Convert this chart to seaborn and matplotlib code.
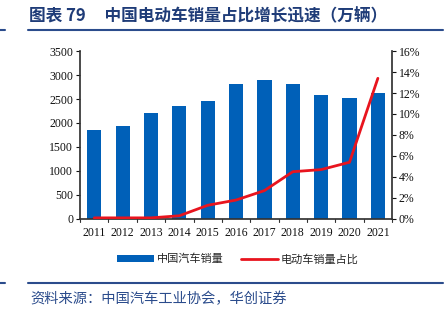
import matplotlib
matplotlib.use("Agg")
import matplotlib.pyplot as plt
import seaborn as sns
import pandas as pd
from matplotlib.lines import Line2D
from matplotlib.patches import Patch
from matplotlib.ticker import FuncFormatter

years = ["2011", "2012", "2013", "2014", "2015", "2016", "2017", "2018", "2019", "2020", "2021"]
car_sales = [1850.5, 1930.6, 2198.4, 2349.2, 2459.8, 2802.8, 2887.9, 2808.1, 2576.9, 2531.1, 2627.5]
ev_share = [0.1, 0.1, 0.1, 0.3, 1.3, 1.8, 2.7, 4.5, 4.7, 5.4, 13.4]

sns.set_theme(style="white")
plt.rcParams['font.family'] = ['Liberation Serif', 'Noto Sans CJK SC']

df = pd.DataFrame({"year": years, "sales": car_sales, "share": ev_share})

fig = plt.figure(figsize=(4.45, 3.21), dpi=100)
ax = fig.add_axes([0.18, 0.318, 0.701, 0.523])
bar_color = "#0060B8"
line_color = "#E8141E"
sns.barplot(data=df, x="year", y="sales", ax=ax, color=bar_color, width=0.5,
            saturation=1, edgecolor="none")
ax.set_ylim(0, 3500)
ax.set_yticks(range(0, 3501, 500))
ax.set_xlim(-0.5, len(years) - 0.5)
ax.set_xlabel("")
ax.set_ylabel("")

ax2 = ax.twinx()
sns.lineplot(data=df, x="year", y="share", ax=ax2, color=line_color, linewidth=2, sort=False)
ax2.set_ylim(0, 16)
ax2.set_yticks(range(0, 17, 2))
ax2.yaxis.set_major_formatter(FuncFormatter(lambda v, p: f"{int(v)}%"))
ax2.set_xlabel("")
ax2.set_ylabel("")
ax2.set_xlim(-0.5, len(years) - 0.5)

for a in (ax, ax2):
    a.spines["top"].set_visible(False)
    a.spines["left"].set_color("#333333")
    a.spines["right"].set_color("#333333")
    a.spines["bottom"].set_color("#333333")
    a.tick_params(axis="both", labelsize=8.5, colors="#111111", length=3, width=0.8, pad=2)
    a.grid(False)
ax.spines["right"].set_visible(False)
ax2.spines["left"].set_visible(False)
ax2.spines["bottom"].set_visible(False)

# x ticks between categories
ax.set_xticks([i for i in range(len(years))])
ax.set_xticklabels(years)
ax.tick_params(axis="x", length=0, pad=6)
for b in [i - 0.5 for i in range(len(years) + 1)]:
    ax.plot([b, b], [0, -0.018], transform=ax.get_xaxis_transform(), color="#333333",
            lw=0.8, clip_on=False)
ax.tick_params(axis="y", direction="out", left=True)
ax2.tick_params(axis="y", direction="out", right=True)

# legend
handles = [Patch(facecolor=bar_color, edgecolor="none"),
           Line2D([0], [0], color=line_color, lw=2)]
leg = fig.legend(handles, ["中国汽车销量", "电动车销量占比"], loc="center",
                 bbox_to_anchor=(0.535, 0.193), ncol=2, frameon=False,
                 prop={"family": ["Noto Sans CJK SC"], "size": 8},
                 handlelength=3.3, handleheight=0.6, columnspacing=1.5, handletextpad=0.3)

# title and rules
fig.text(0.065, 0.948, "图表 79     中国电动车销量占比增长迅速（万辆）", ha="left", va="center",
         fontsize=12, fontweight="bold", color="#1F3C78",
         family=["Noto Sans CJK SC", "DejaVu Sans"])
blue_rule = "#2B4C8C"
fig.add_artist(Line2D([0.063, 0.995], [0.908, 0.908], color=blue_rule, lw=1.5, transform=fig.transFigure))
fig.add_artist(Line2D([0.0, 0.012], [0.908, 0.908], color=blue_rule, lw=1.5, transform=fig.transFigure))
fig.add_artist(Line2D([0.063, 0.995], [0.118, 0.118], color=blue_rule, lw=1.5, transform=fig.transFigure))
fig.add_artist(Line2D([0.0, 0.012], [0.118, 0.118], color=blue_rule, lw=1.5, transform=fig.transFigure))
fig.text(0.068, 0.07, "资料来源：中国汽车工业协会，华创证券", ha="left", va="center",
         fontsize=10.3, style="italic", color="#2B4C8C",
         family=["Noto Sans CJK SC", "DejaVu Sans"])

fig.savefig("out.png", dpi=100)
